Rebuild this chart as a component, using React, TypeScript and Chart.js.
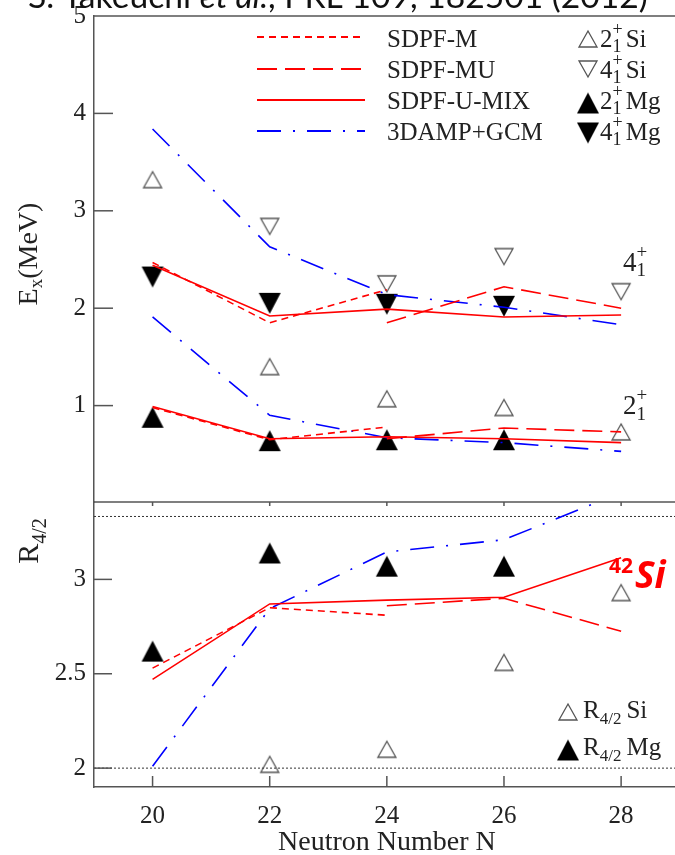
import React, { useEffect, useRef } from 'react';
import { Chart, registerables } from 'chart.js';
Chart.register(...registerables);

// ---------------- data ----------------
const N_EVEN = [20, 22, 24, 26, 28];
const N_MG = [20, 22, 24, 26];
const N_SI4 = [22, 24, 26, 28];
const N_SI_R = [22, 24, 26, 28];
const N_SDPFM = [20, 22, 24];
const N_SDPFMU = [24, 26, 28];
const N_REF = [19, 29];

const X_TICKS = [20, 22, 24, 26, 28];
const EX_TICKS = [1, 2, 3, 4, 5];
const R_TICKS = [2, 2.5, 3];

// experiment
const si2Ex = [3.32, 1.4, 1.07, 0.98, 0.73];
const si4Ex = [2.84, 2.25, 2.53, 2.17];
const mg2Ex = [0.88, 0.64, 0.65, 0.65];
const mg4Ex = [2.32, 2.05, 2.04, 2.02];
const siR = [2.02, 2.1, 2.56, 2.93];
const mgR = [2.62, 3.14, 3.07, 3.07];

// theory
const sdpfm4 = [2.47, 1.85, 2.19];
const sdpfm2 = [0.98, 0.65, 0.78];
const sdpfmR = [2.53, 2.85, 2.81];
const sdpfmu4 = [1.85, 2.22, 2.0];
const sdpfmu2 = [0.66, 0.77, 0.73];
const sdpfmuR = [2.86, 2.9, 2.725];
const mix4 = [2.44, 1.92, 1.99, 1.91, 1.93];
const mix2 = [0.99, 0.66, 0.68, 0.66, 0.62];
const mixR = [2.47, 2.87, 2.89, 2.905, 3.115];
const gcm4 = [3.84, 2.63, 2.14, 2.01, 1.83];
const gcm2 = [1.91, 0.9, 0.67, 0.62, 0.53];
const gcmR = [2.01, 2.845, 3.145, 3.21, 3.46];

const R_VIB = 2;
const R_ROT = 10 / 3;

const LINE_LEGEND = ['SDPF-M', 'SDPF-MU', 'SDPF-U-MIX', '3DAMP+GCM'];
const HEADER = ['S. Takeuchi ', 'et al.', ', PRL 109, 182501 (2012)'];

// ---------------- styles ----------------
const SERIF = '"Liberation Serif", "Times New Roman", Times, serif';
const fnt = (px: number, style = '') => `${style} ${px}px ${SERIF}`.trim();
const RED = '#ff0000';
const BLUE = '#0000ff';
const AXIS = '#555555';
const TXT = '#222222';
const DASH_M = [7, 5];
const DASH_MU = [20, 8];
const DASH_GCM = [24, 12, 2, 12];

const pts = (xs: number[], ys: number[]) => xs.map((x, i) => ({ x, y: ys[i] }));

function makeTri(w: number, h: number, down: boolean, filled: boolean) {
  const c = document.createElement('canvas');
  const pad = 2;
  c.width = Math.round(w + pad * 2);
  c.height = Math.round(h + pad * 2);
  const g = c.getContext('2d')!;
  g.beginPath();
  if (!down) {
    g.moveTo(pad + w / 2, pad);
    g.lineTo(pad + w, pad + h);
    g.lineTo(pad, pad + h);
  } else {
    g.moveTo(pad, pad);
    g.lineTo(pad + w, pad);
    g.lineTo(pad + w / 2, pad + h);
  }
  g.closePath();
  if (filled) {
    g.fillStyle = '#000';
    g.fill();
  } else {
    g.strokeStyle = '#555';
    g.lineWidth = 1.3;
    g.stroke();
  }
  return c;
}

type Seg =
  | { t: string; font: string; dy?: number }
  | { sup: string; sub: string; font: string; supDy: number; subDy: number }
  | { gap: number };

function drawRich(ctx: CanvasRenderingContext2D, x: number, y: number, segs: Seg[], draw = true) {
  let cx = x;
  for (const s of segs as any[]) {
    if (s.gap !== undefined) {
      cx += s.gap;
    } else if (s.t !== undefined) {
      ctx.font = s.font;
      if (draw) ctx.fillText(s.t, cx, y + (s.dy || 0));
      cx += ctx.measureText(s.t).width;
    } else {
      ctx.font = s.font;
      if (draw) {
        ctx.fillText(s.sup, cx, y + s.supDy);
        ctx.fillText(s.sub, cx, y + s.subDy);
      }
      cx += Math.max(ctx.measureText(s.sup).width, ctx.measureText(s.sub).width);
    }
  }
  return cx - x;
}

function seg(ctx: CanvasRenderingContext2D, x1: number, y1: number, x2: number, y2: number) {
  ctx.beginPath();
  ctx.moveTo(x1, y1);
  ctx.lineTo(x2, y2);
  ctx.stroke();
}

function lineDs(label: string, xs: number[], ys: number[], color: string, dash: number[], yAxisID = 'y') {
  return {
    type: 'line',
    label,
    data: pts(xs, ys),
    borderColor: color,
    backgroundColor: color,
    borderWidth: 1.6,
    borderDash: dash,
    pointRadius: 0,
    showLine: true,
    fill: false,
    tension: 0,
    clip: 0,
    yAxisID,
  };
}

function markDs(label: string, xs: number[], ys: number[], img: HTMLCanvasElement) {
  return {
    type: 'scatter',
    label,
    data: pts(xs, ys),
    pointStyle: img,
    pointRadius: 10,
    showLine: false,
  };
}

export default function App() {
  const topRef = useRef<HTMLCanvasElement>(null);
  const botRef = useRef<HTMLCanvasElement>(null);

  useEffect(() => {
    const upOpen = makeTri(18, 16, false, false);
    const downOpen = makeTri(18, 16, true, false);
    const upFill = makeTri(22, 21, false, true);
    const downFill = makeTri(22, 21, true, true);

    const xScale = (display: boolean, extra: any = {}) => ({
      type: 'linear',
      min: 19,
      max: 28.92,
      display,
      afterBuildTicks: (s: any) => {
        s.ticks = X_TICKS.map((v) => ({ value: v }));
      },
      grid: { display: false, drawTicks: false },
      border: { display: true, color: AXIS, width: 1.5 },
      ticks: { font: { family: SERIF, size: 25 }, color: TXT, padding: 14 },
      ...extra,
    });

    const topPlugin = {
      id: 'topDeco',
      afterDraw(chart: any) {
        const ctx: CanvasRenderingContext2D = chart.ctx;
        const a = chart.chartArea;
        const ys = chart.scales.y;
        ctx.save();
        ctx.strokeStyle = AXIS;
        ctx.lineWidth = 1.5;
        seg(ctx, a.left, a.top, a.right, a.top);
        EX_TICKS.filter((v) => v < 5).forEach((v) => {
          const py = ys.getPixelForValue(v);
          seg(ctx, a.left, py, a.left + 19, py);
        });

        // header (partially cut off at the top)
        ctx.fillStyle = '#111';
        ctx.textBaseline = 'alphabetic';
        const base = 30;
        const hf = (s: string, i: number) => `${i === 1 ? 'italic ' : ''}${s}px Lato, "Noto Sans", sans-serif`;
        let w = 0;
        HEADER.forEach((t, i) => {
          ctx.font = hf(String(base), i);
          w += ctx.measureText(t).width;
        });
        const size = (base * 620) / w;
        let hx = 28;
        HEADER.forEach((t, i) => {
          ctx.font = hf(size.toFixed(2), i);
          ctx.fillText(t, hx, 8);
          hx += ctx.measureText(t).width;
        });

        // line legend
        const rows = [37, 69, 100, 131];
        const styles: [string, number[]][] = [
          [RED, DASH_M],
          [RED, DASH_MU],
          [RED, []],
          [BLUE, DASH_GCM],
        ];
        ctx.lineWidth = 1.8;
        styles.forEach(([c, d], i) => {
          ctx.strokeStyle = c;
          ctx.setLineDash(d);
          seg(ctx, 257, rows[i], 365, rows[i]);
        });
        ctx.setLineDash([]);
        ctx.fillStyle = TXT;
        const base2 = [47, 78, 109, 140];
        LINE_LEGEND.forEach((t, i) => {
          ctx.font = fnt(25);
          ctx.fillText(t, 387, base2[i]);
        });

        // symbol legend
        const imgs = [upOpen, downOpen, upFill, downFill];
        const cys = [39, 69, 103, 133];
        const lvl = ['2', '4', '2', '4'];
        const nuc = ['Si', 'Si', 'Mg', 'Mg'];
        imgs.forEach((im, i) => {
          ctx.drawImage(im, 588 - im.width / 2, cys[i] - im.height / 2);
          drawRich(ctx, 600, base2[i], [
            { t: lvl[i], font: fnt(25) },
            { sup: '+', sub: '1', font: fnt(18), supDy: -12, subDy: 5 },
            { gap: 3 },
            { t: nuc[i], font: fnt(25) },
          ]);
        });

        // level labels
        drawRich(ctx, 623, 271, [
          { t: '4', font: fnt(27) },
          { sup: '+', sub: '1', font: fnt(19), supDy: -13, subDy: 5 },
        ]);
        drawRich(ctx, 623, 414, [
          { t: '2', font: fnt(27) },
          { sup: '+', sub: '1', font: fnt(19), supDy: -13, subDy: 6 },
        ]);

        // y title
        const tSegs: Seg[] = [
          { t: 'E', font: fnt(28) },
          { t: 'x', font: fnt(19), dy: 5 },
          { t: '(MeV)', font: fnt(28) },
        ];
        ctx.translate(37, 254);
        ctx.rotate(-Math.PI / 2);
        const tw = drawRich(ctx, 0, 0, tSegs, false);
        drawRich(ctx, -tw / 2, 0, tSegs);
        ctx.restore();
      },
    };

    const botPlugin = {
      id: 'botDeco',
      afterDraw(chart: any) {
        const ctx: CanvasRenderingContext2D = chart.ctx;
        const a = chart.chartArea;
        const ys = chart.scales.y;
        const xs = chart.scales.x;
        ctx.save();
        ctx.strokeStyle = AXIS;
        ctx.lineWidth = 1.5;
        seg(ctx, a.left, a.top, a.right, a.top);
        R_TICKS.forEach((v) => {
          const py = ys.getPixelForValue(v);
          seg(ctx, a.left, py, a.left + 18, py);
        });
        X_TICKS.forEach((v) => {
          const px = xs.getPixelForValue(v);
          seg(ctx, px, a.bottom, px, a.bottom - 11);
          seg(ctx, px, a.top, px, a.top + 4);
        });

        ctx.fillStyle = TXT;
        ctx.textBaseline = 'alphabetic';
        // R legend
        const oy = 500;
        const L = (y: number) => y - oy;
        ctx.drawImage(upOpen, 568 - upOpen.width / 2, L(712) - upOpen.height / 2);
        ctx.drawImage(upFill, 568 - upFill.width / 2, L(750) - upFill.height / 2);
        drawRich(ctx, 583, L(718), [
          { t: 'R', font: fnt(25) },
          { t: '4/2', font: fnt(17), dy: 6 },
          { gap: 5 },
          { t: 'Si', font: fnt(25) },
        ]);
        drawRich(ctx, 583, L(755), [
          { t: 'R', font: fnt(25) },
          { t: '4/2', font: fnt(17), dy: 6 },
          { gap: 5 },
          { t: 'Mg', font: fnt(25) },
        ]);

        // 42Si label
        ctx.fillStyle = RED;
        ctx.font = 'bold 21px "Noto Sans", "Open Sans", sans-serif';
        ctx.fillText('42', 609, L(573));
        ctx.font = 'italic bold 37px "Noto Sans", "Open Sans", sans-serif';
        ctx.fillText('Si', 635, L(588));

        // x title
        ctx.fillStyle = TXT;
        ctx.font = fnt(28);
        ctx.textAlign = 'center';
        ctx.fillText('Neutron Number N', xs.getPixelForValue(24), L(850));
        ctx.textAlign = 'left';

        // y title
        const rSegs: Seg[] = [
          { t: 'R', font: fnt(30) },
          { t: '4/2', font: fnt(20), dy: 8 },
        ];
        ctx.translate(38, L(541));
        ctx.rotate(-Math.PI / 2);
        const rw = drawRich(ctx, 0, 0, rSegs, false);
        drawRich(ctx, -rw / 2, 0, rSegs);
        ctx.restore();
      },
    };

    const yBase = (min: number, max: number, ticks: number[]) => ({
      type: 'linear',
      position: 'left',
      min,
      max,
      afterBuildTicks: (s: any) => {
        s.ticks = ticks.map((v) => ({ value: v }));
      },
      afterFit: (s: any) => {
        s.width = 94;
        s.paddingTop = 0;
        s.paddingBottom = 0;
      },
      grid: { display: false, drawTicks: false },
      border: { display: true, color: AXIS, width: 1.5 },
      ticks: {
        font: { family: SERIF, size: 25 },
        color: TXT,
        padding: 8,
        callback: (v: number) => String(v),
      },
    });

    const topChart = new Chart(topRef.current!, {
      type: 'scatter',
      data: {
        datasets: [
          lineDs('SDPF-M 4', N_SDPFM, sdpfm4, RED, DASH_M),
          lineDs('SDPF-M 2', N_SDPFM, sdpfm2, RED, DASH_M),
          lineDs('SDPF-MU 4', N_SDPFMU, sdpfmu4, RED, DASH_MU),
          lineDs('SDPF-MU 2', N_SDPFMU, sdpfmu2, RED, DASH_MU),
          lineDs('SDPF-U-MIX 4', N_EVEN, mix4, RED, []),
          lineDs('SDPF-U-MIX 2', N_EVEN, mix2, RED, []),
          lineDs('3DAMP+GCM 4', N_EVEN, gcm4, BLUE, DASH_GCM),
          lineDs('3DAMP+GCM 2', N_EVEN, gcm2, BLUE, DASH_GCM),
          markDs('2+ Si', N_EVEN, si2Ex, upOpen),
          markDs('4+ Si', N_SI4, si4Ex, downOpen),
          markDs('2+ Mg', N_MG, mg2Ex, upFill),
          markDs('4+ Mg', N_MG, mg4Ex, downFill),
        ] as any,
      },
      options: {
        animation: false,
        responsive: false,
        events: [],
        layout: { autoPadding: false, padding: { left: 0, right: 0, top: 16, bottom: 0 } },
        plugins: { legend: { display: false }, tooltip: { enabled: false } },
        scales: {
          x: xScale(false),
          y: yBase(0, 5, EX_TICKS),
        },
      } as any,
      plugins: [topPlugin],
    });

    const botChart = new Chart(botRef.current!, {
      type: 'scatter',
      data: {
        datasets: [
          lineDs('SDPF-M', N_SDPFM, sdpfmR, RED, DASH_M),
          lineDs('SDPF-MU', N_SDPFMU, sdpfmuR, RED, DASH_MU),
          lineDs('SDPF-U-MIX', N_EVEN, mixR, RED, []),
          lineDs('3DAMP+GCM', N_EVEN, gcmR, BLUE, DASH_GCM),
          { ...lineDs('vib', N_REF, N_REF.map(() => R_VIB), '#333', [2, 2]), borderWidth: 1 },
          { ...lineDs('rot', N_REF, N_REF.map(() => R_ROT), '#333', [2, 2]), borderWidth: 1 },
          markDs('R Si', N_SI_R, siR, upOpen),
          markDs('R Mg', N_MG, mgR, upFill),
        ] as any,
      },
      options: {
        animation: false,
        responsive: false,
        events: [],
        layout: { autoPadding: false, padding: { left: 0, right: 0, top: 2, bottom: 0 } },
        plugins: { legend: { display: false }, tooltip: { enabled: false } },
        scales: {
          x: xScale(true, {
            afterFit: (s: any) => {
              s.height = 68;
              s.paddingLeft = 0;
              s.paddingRight = 0;
            },
          }),
          y: yBase(1.9, 3.41, R_TICKS),
        },
      } as any,
      plugins: [botPlugin],
    });

    return () => {
      topChart.destroy();
      botChart.destroy();
    };
  }, []);

  return (
    <div style={{ position: 'absolute', left: 0, top: 0, width: 675, height: 855, overflow: 'hidden', background: '#fff' }}>
      <canvas ref={topRef} width={675} height={503} style={{ position: 'absolute', left: 0, top: 0, width: 675, height: 503 }} />
      <canvas ref={botRef} width={675} height={355} style={{ position: 'absolute', left: 0, top: 500, width: 675, height: 355 }} />
    </div>
  );
}
